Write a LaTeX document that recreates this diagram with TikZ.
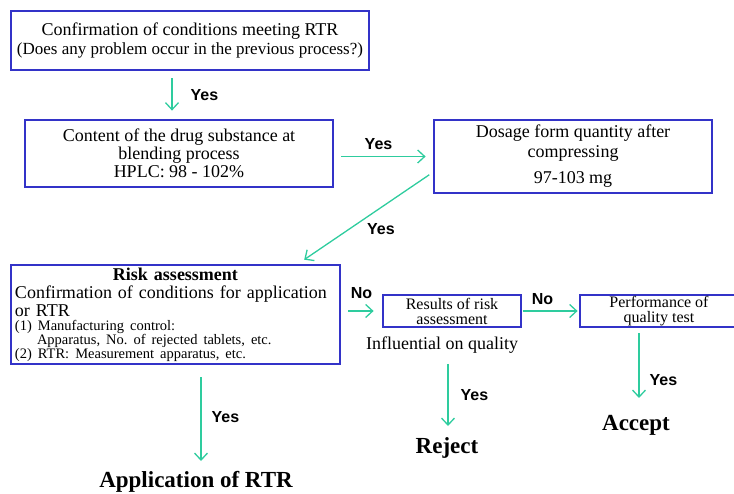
\documentclass[tikz,border=0pt]{standalone}
\usepackage{fontspec}
\setmainfont{Liberation Serif}
\setsansfont{Liberation Sans}
\usepackage{xcolor}
\usetikzlibrary{positioning,arrows.meta}

\definecolor{boxblue}{RGB}{51,51,200}
\definecolor{flowgreen}{RGB}{46,204,158}

\tikzset{
    stepbox/.style={draw=boxblue, line width=2.8pt, rectangle, inner sep=2pt, align=center,
        font=\fontsize{18}{18}\selectfont},
    smallbox/.style={stepbox, font=\fontsize{16}{15}\selectfont, inner sep=0pt},
    flow/.style={draw=flowgreen, line width=1.3pt, -{Straight Barb[length=7pt,width=13pt,line width=1.3pt]}},
    answer/.style={font=\sffamily\bfseries\fontsize{16}{16}\selectfont, inner sep=0pt, text=black},
    outcome/.style={font=\bfseries\fontsize{23}{23}\selectfont, inner sep=0pt},
}

\begin{document}
\begin{tikzpicture}[x=1pt, y=-1pt]
    \useasboundingbox (0,0) rectangle (734,494);

    % First checks
    \node[stepbox, minimum width=358pt, minimum height=59pt] (confirm) at (190,40.5)
        {Confirmation of conditions meeting RTR\\[1pt]{\fontsize{17}{17}\selectfont(Does any problem occur in the previous process?)}};
    \node[stepbox, minimum width=308pt, minimum height=67pt] (content) at (179,153.5)
        {Content of the drug substance at\\blending process\\HPLC: 98 - 102\%};
    \node[stepbox, minimum width=278pt, minimum height=73pt, font=\fontsize{18}{20}\selectfont] (dosage) at (573,156.5)
        {Dosage form quantity after\\compressing\\[6pt]97-103 mg};

    % Risk assessment
    \node[stepbox, minimum width=329pt, minimum height=99pt, text width=321pt, align=left] (risk) at (175.5,314.5)
        {\centering\bfseries Risk assessment\par
         \raggedright\mdseries Confirmation of conditions for application\\or RTR\par
         \fontsize{14.5}{14}\selectfont (1) Manufacturing control:\\
         \hspace*{22pt}Apparatus, No.\ of rejected tablets, etc.\\
         (2) RTR: Measurement apparatus, etc.\par};
    \node[smallbox, minimum width=138pt, minimum height=32pt] (results) at (452,311)
        {Results of risk\\assessment};
    \node[smallbox, minimum width=158pt, minimum height=32pt] (perf) at (659,311)
        {Performance of\\quality test};
    \node[font=\fontsize{18}{18}\selectfont, inner sep=0pt] (influence) at (442,345) {Influential on quality};

    % Outcomes
    \node[outcome] (reject) at (447,448) {Reject};
    \node[outcome] (accept) at (636,425) {Accept};
    \node[outcome] (apply) at (196,482) {Application of RTR};

    % Connectors
    \draw[flow, shorten <=7pt, shorten >=8pt] ([xshift=-18pt]confirm.south) -- ([xshift=-7pt]content.north)
        node[answer, midway, right=18pt] {Yes};
    \draw[flow, shorten <=7pt, shorten >=7pt] (content.east |- dosage.west) -- (dosage.west)
        node[answer, midway, above=6pt, xshift=-5pt] {Yes};
    \draw[flow, shorten <=4pt, shorten >=7pt] ([yshift=-16pt]dosage.west) -- ([xshift=-43pt]risk.north east)
        node[answer, midway, anchor=north west, xshift=1pt, yshift=-5pt] {Yes};
    \draw[flow, shorten <=7pt, shorten >=8pt] (risk.east |- results.west) -- (results.west)
        node[answer, midway, above=12pt] {No};
    \draw[flow, shorten <=1pt, shorten >=1pt] (results.east) -- (perf.west)
        node[answer, midway, above=6pt, xshift=-8pt] {No};
    \draw[flow] ([xshift=-20pt,yshift=-5pt]perf.south) -- ([xshift=3pt,yshift=27pt]accept.center)
        node[answer, pos=0.72, right=10pt] {Yes};
    \draw[flow] ([xshift=6pt,yshift=-19pt]influence.center) -- ([xshift=1pt,yshift=22pt]reject.center)
        node[answer, midway, right=12pt] {Yes};
    \draw[flow] ([xshift=25.5pt,yshift=-12pt]risk.south) -- ([xshift=5pt,yshift=21pt]apply.center)
        node[answer, pos=0.47, right=10pt] {Yes};
\end{tikzpicture}
\end{document}
